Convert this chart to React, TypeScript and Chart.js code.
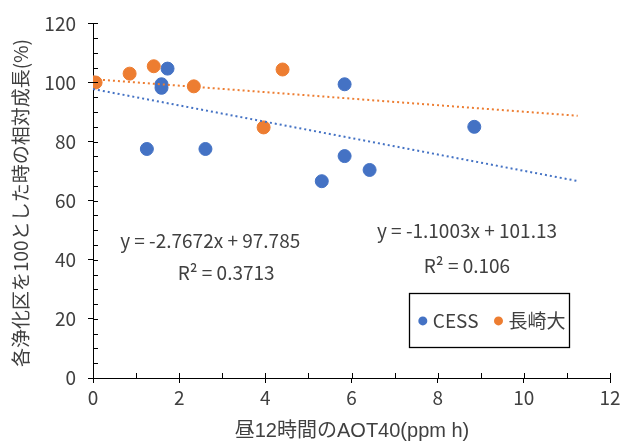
import React, { useEffect, useRef } from "react";
import { Chart, registerables } from "chart.js";

Chart.register(...registerables);

const seriesNames = ["CESS", "長崎大"];
const cessX = [0, 1.25, 1.59, 1.59, 1.73, 2.61, 5.84, 5.84, 6.42, 5.31, 8.85];
const cessY = [100, 77.5, 99.4, 98.2, 104.7, 77.5, 99.4, 75.1, 70.4, 66.6, 85.0];
const nagasakiX = [0, 0.06, 0.85, 1.41, 2.34, 3.96, 4.4];
const nagasakiY = [100, 100, 103, 105.5, 98.7, 84.8, 104.4];
const trendSlope = [-2.7672, -1.1003];
const trendIntercept = [97.785, 101.13];
const trendR2 = ["0.3713", "0.106"];
const trendEndX = 11.25;
const xTitle = "昼12時間のAOT40(ppm h)";
const yTitle = "各浄化区を100とした時の相対成長(%)";

const COLORS = ["#4472C4", "#ED7D31"];
const FONT = "'Noto Sans CJK JP', 'Noto Sans', sans-serif";
const LATIN_FONT = "'Liberation Sans', 'Noto Sans CJK JP', sans-serif";
const TEXT = "#404040";

export default function App() {
  const ref = useRef<HTMLCanvasElement>(null);
  useEffect(() => {
    const ctx = ref.current!.getContext("2d")!;
    const toPts = (xs: number[], ys: number[]) => xs.map((x, i) => ({ x, y: ys[i] }));
    const trend = (i: number) => [
      { x: 0, y: trendIntercept[i] },
      { x: trendEndX, y: trendIntercept[i] + trendSlope[i] * trendEndX },
    ];

    const innerTicks = {
      id: "innerTicks",
      afterDraw(chart: any) {
        const c = chart.ctx;
        const xs = chart.scales.x;
        const ys = chart.scales.y;
        const a = chart.chartArea;
        c.save();
        c.strokeStyle = "#000";
        c.lineWidth = 1;
        for (let v = 1; v <= 12; v += 1) {
          const px = Math.round(xs.getPixelForValue(v)) + 0.5;
          c.beginPath();
          c.moveTo(px, a.bottom);
          c.lineTo(px, a.bottom - 5);
          c.stroke();
        }
        for (let v = 5; v <= 120; v += 5) {
          const py = Math.round(ys.getPixelForValue(v)) + 0.5;
          c.beginPath();
          c.moveTo(a.left, py);
          c.lineTo(a.left + 5, py);
          c.stroke();
        }
        c.restore();
      },
    };

    const annotations = {
      id: "annotations",
      afterDraw(chart: any) {
        const c = chart.ctx;
        const xs = chart.scales.x;
        const ys = chart.scales.y;
        const eq = (i: number) =>
          `y = ${trendSlope[i] < 0 ? "-" : ""}${Math.abs(trendSlope[i])}x + ${trendIntercept[i]}`;
        const labels = [
          { x: 2.72, y: 46.3, t: eq(0) },
          { x: 3.09, y: 35.6, t: `R² = ${trendR2[0]}` },
          { x: 8.68, y: 49.7, t: eq(1) },
          { x: 8.68, y: 37.9, t: `R² = ${trendR2[1]}` },
        ];
        c.save();
        c.font = `19px ${FONT}`;
        c.fillStyle = TEXT;
        c.textAlign = "center";
        c.textBaseline = "middle";
        for (const l of labels) {
          c.fillText(l.t, xs.getPixelForValue(l.x), ys.getPixelForValue(l.y));
        }
        // axis titles
        c.font = `20px ${LATIN_FONT}`;
        c.fillText(xTitle, 352, 431);
        c.save();
        c.translate(21, 203);
        c.rotate(-Math.PI / 2);
        c.font = `19px ${FONT}`;
        c.fillText(yTitle, 0, 0);
        c.restore();
        // legend
        const bx = xs.getPixelForValue(7.33);
        const by = ys.getPixelForValue(28.8);
        const bw = 160;
        const bh = 54;
        c.fillStyle = "#fff";
        c.fillRect(bx, by, bw, bh);
        c.strokeStyle = "#000";
        c.lineWidth = 1.3;
        c.strokeRect(Math.round(bx) + 0.5, Math.round(by) + 0.5, bw, bh);
        c.textAlign = "left";
        c.font = `19px ${FONT}`;
        let cx = bx + 14;
        const cy = by + bh / 2 + 1;
        seriesNames.forEach((n, i) => {
          c.fillStyle = COLORS[i];
          c.beginPath();
          c.arc(cx, cy, 4.5, 0, Math.PI * 2);
          c.fill();
          c.fillStyle = TEXT;
          c.fillText(n, cx + 10, cy);
          cx += c.measureText(n).width + 10 + 20;
        });
        c.restore();
      },
    };

    const chart = new Chart(ctx, {
      type: "scatter",
      data: {
        datasets: [
          {
            label: seriesNames[0],
            data: toPts(cessX, cessY),
            backgroundColor: COLORS[0],
            borderColor: COLORS[0],
            pointRadius: 6.5,
            order: 3,
          },
          {
            label: seriesNames[1],
            data: toPts(nagasakiX, nagasakiY),
            backgroundColor: COLORS[1],
            borderColor: COLORS[1],
            pointRadius: 6.5,
            order: 2,
          },
          {
            type: "line",
            label: "trend0",
            data: trend(0),
            borderColor: COLORS[0],
            borderWidth: 2,
            borderDash: [2, 3],
            pointRadius: 0,
            order: 1,
          } as any,
          {
            type: "line",
            label: "trend1",
            data: trend(1),
            borderColor: COLORS[1],
            borderWidth: 2,
            borderDash: [2, 3],
            pointRadius: 0,
            order: 0,
          } as any,
        ],
      },
      options: {
        animation: false,
        responsive: false,
        layout: { padding: { top: 20, right: 15, left: 0, bottom: 0 } },
        plugins: { legend: { display: false }, tooltip: { enabled: false } },
        scales: {
          x: {
            type: "linear",
            min: 0,
            max: 12,
            afterFit: (s: any) => {
              s.height = 64;
            },
            ticks: { stepSize: 2, color: TEXT, font: { family: FONT, size: 19 }, padding: 3 },
            grid: { drawOnChartArea: false, drawTicks: true, tickLength: 5, color: "#000" },
            border: { color: "#000", width: 1 },
          },
          y: {
            min: 0,
            max: 120,
            afterFit: (s: any) => {
              s.width = 93;
            },
            ticks: { stepSize: 20, color: TEXT, font: { family: FONT, size: 19 }, padding: 12 },
            grid: { drawOnChartArea: false, drawTicks: true, tickLength: 5, color: "#000" },
            border: { color: "#000", width: 1 },
          },
        },
      },
      plugins: [innerTicks, annotations],
    });
    return () => chart.destroy();
  }, []);
  return (
    <div style={{ position: "absolute", left: 0, top: 0, width: 625, height: 442, background: "#fff" }}>
      <canvas ref={ref} width={625} height={442} />
    </div>
  );
}
